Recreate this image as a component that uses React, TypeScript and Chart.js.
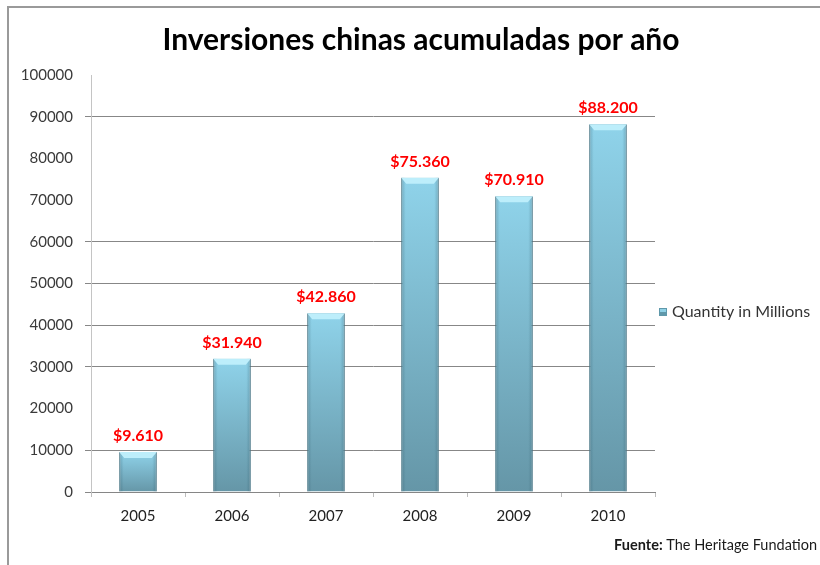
import React, { useEffect, useRef } from "react";
import { Chart, registerables } from "chart.js";

Chart.register(...registerables);

const TITLE = "Inversiones chinas acumuladas por año";
const YEARS = ["2005", "2006", "2007", "2008", "2009", "2010"];
const VALUES = [9610, 31940, 42860, 75360, 70910, 88200];
const SERIES_NAME = "Quantity in Millions";
const Y_MIN = 0;
const Y_MAX = 100000;
const Y_STEP = 10000;
const HIDDEN_GRID = [20000, 70000, 80000, 100000];
const SOURCE_BOLD = "Fuente:";
const SOURCE_TEXT = " The Heritage Fundation";

const FONT = "Lato, 'Open Sans', 'DejaVu Sans', sans-serif";

const fmt = (v: number) => v.toString().replace(/\B(?=(\d{3})+(?!\d))/g, ".");

const gridColor = (ctx: any) => {
  const v = ctx.tick ? Math.round(ctx.tick.value) : Math.round(ctx.index * Y_STEP);
  return HIDDEN_GRID.includes(v) ? "rgba(255,255,255,0)" : "#878787";
};

const decorPlugin = {
  id: "decor",
  beforeDraw(chart: any) {
    const c = chart.ctx;
    c.save();
    c.fillStyle = "#ffffff";
    c.fillRect(0, 0, chart.width, chart.height);
    c.strokeStyle = "#9a9a9a";
    c.lineWidth = 2;
    c.beginPath();
    c.moveTo(8, chart.height);
    c.lineTo(8, 7);
    c.lineTo(chart.width, 7);
    c.stroke();
    c.fillStyle = "#000000";
    c.font = `bold 30px ${FONT}`;
    c.textAlign = "center";
    c.textBaseline = "middle";
    c.fillText(TITLE, 421, 40);
    c.restore();
  },
  afterDatasetsDraw(chart: any) {
    const c = chart.ctx;
    const meta = chart.getDatasetMeta(0);
    c.save();
    meta.data.forEach((el: any, i: number) => {
      const w = el.width;
      const l = el.x - w / 2;
      const r = el.x + w / 2;
      const t = el.y;
      const sg = c.createLinearGradient(l, 0, r, 0);
      sg.addColorStop(0, "rgba(40,80,95,0.30)");
      sg.addColorStop(0.12, "rgba(40,80,95,0.0)");
      sg.addColorStop(0.88, "rgba(40,80,95,0.0)");
      sg.addColorStop(1, "rgba(40,80,95,0.30)");
      c.fillStyle = sg;
      c.fillRect(l, t, w, el.base - t);
      c.beginPath();
      c.moveTo(l, t);
      c.lineTo(r, t);
      c.lineTo(r - 5, t + 6);
      c.lineTo(l + 5, t + 6);
      c.closePath();
      c.fillStyle = "#bdeefb";
      c.fill();
      c.fillStyle = "#ff0000";
      c.font = `bold 16px ${FONT}`;
      c.textAlign = "center";
      c.textBaseline = "alphabetic";
      c.fillText("$" + fmt(VALUES[i]), el.x, t - 11);
    });
    const ds = chart.data.datasets[0];
    c.fillStyle = "#5f98aa";
    c.fillRect(659, 308, 8, 8);
    c.fillStyle = "#8fd1e6";
    c.fillRect(660, 309, 6, 3);
    c.fillStyle = "#333333";
    c.font = `16px ${FONT}`;
    c.textAlign = "left";
    c.textBaseline = "middle";
    c.fillText(ds.label, 672, 312);
    c.font = `bold 14.5px ${FONT}`;
    c.fillStyle = "#1a1a1a";
    const bw = c.measureText(SOURCE_BOLD).width;
    c.font = `14.5px ${FONT}`;
    const tw = c.measureText(SOURCE_TEXT).width;
    const startX = 817 - bw - tw;
    c.font = `bold 14.5px ${FONT}`;
    c.fillText(SOURCE_BOLD, startX, 545);
    c.font = `14.5px ${FONT}`;
    c.fillText(SOURCE_TEXT, startX + bw, 545);
    c.restore();
  },
};

export default function App() {
  const ref = useRef<HTMLCanvasElement | null>(null);
  useEffect(() => {
    if (!ref.current) return;
    const chart = new Chart(ref.current, {
      type: "bar",
      data: {
        labels: YEARS,
        datasets: [
          {
            label: SERIES_NAME,
            data: VALUES,
            backgroundColor: (ctx: any) => {
              const ch = ctx.chart;
              const area = ch.chartArea;
              if (!area || !ch.scales.y) return "#7fbfd4";
              const top = ch.scales.y.getPixelForValue(ctx.raw);
              const g = ch.ctx.createLinearGradient(0, top, 0, area.bottom);
              g.addColorStop(0, "#8fd3ea");
              g.addColorStop(1, "#6596a7");
              return g;
            },
            borderColor: "#5a8a9a",
            borderWidth: 1,
            barPercentage: 0.4,
            categoryPercentage: 1,
          },
        ],
      },
      options: {
        animation: false,
        responsive: false,
        layout: { padding: { top: 75, right: 165, left: 0, bottom: 0 } },
        plugins: {
          legend: { display: false },
          title: { display: false },
          tooltip: { enabled: false },
        },
        scales: {
          x: {
            afterFit: (s: any) => {
              s.height = 73;
            },
            grid: {
              drawOnChartArea: false,
              drawTicks: true,
              tickLength: 5,
              color: "#bdbdbd",
              offset: true,
            },
            border: { color: "#868686" },
            ticks: {
              color: "#222222",
              font: { family: FONT, size: 15 },
              padding: 10,
            },
          },
          y: {
            min: Y_MIN,
            max: Y_MAX,
            afterFit: (s: any) => {
              s.width = 91;
            },
            ticks: {
              stepSize: Y_STEP,
              color: "#3a3a3a",
              font: { family: FONT, size: 15 },
              padding: 12,
              callback: (v: any) => String(v),
            },
            grid: {
              color: gridColor,
              tickLength: 6,
            },
            border: { color: "#c4c4c4" },
          },
        },
      },
      plugins: [decorPlugin],
    });
    return () => chart.destroy();
  }, []);
  return (
    <div style={{ position: "fixed", left: 0, top: 0, width: 820, height: 565 }}>
      <canvas ref={ref} width={820} height={565} style={{ width: 820, height: 565, display: "block" }} />
    </div>
  );
}
